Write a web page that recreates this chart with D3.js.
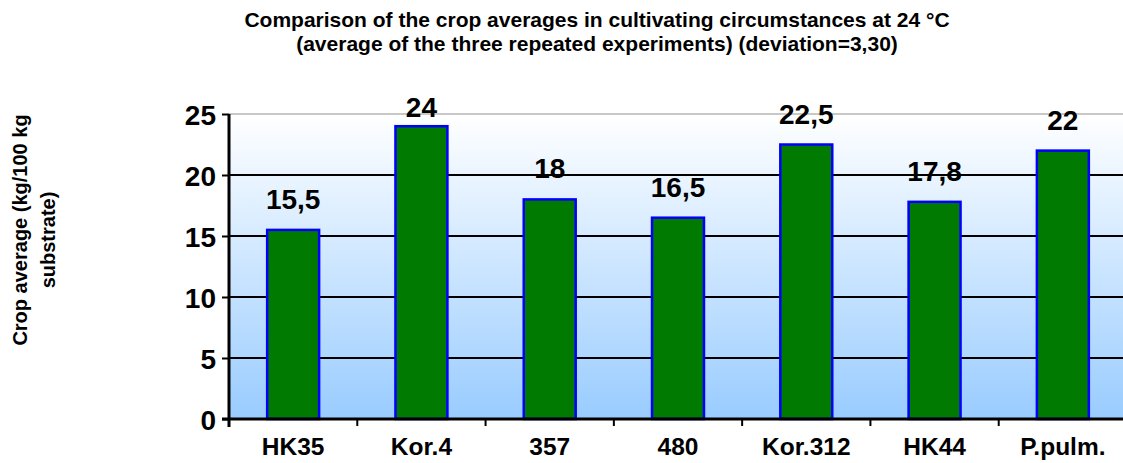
<!DOCTYPE html>
<html>
<head>
<meta charset="utf-8">
<script src="https://cdn.jsdelivr.net/npm/d3@7"></script>
<style>
  body { margin: 0; background: #fff; }
  text { font-family: Arial, "Liberation Sans", sans-serif; font-weight: bold; fill: #000; }
</style>
</head>
<body>
<svg id="chart" width="1123" height="463"></svg>
<script>
// chart data
const categories = ['HK35', 'Kor.4', '357', '480', 'Kor.312', 'HK44', 'P.pulm.'];
const values = [15.5, 24, 18, 16.5, 22.5, 17.8, 22];
const valueLabels = ['15,5', '24', '18', '16,5', '22,5', '17,8', '22'];
const yTicks = [0, 5, 10, 15, 20, 25];
const titleLines = [
    'Comparison of the crop averages in cultivating circumstances at 24 °C',
    '(average of the three repeated experiments) (deviation=3,30)'
];
const yLabelLines = ['Crop average (kg/100 kg', 'substrate)'];

const margin = { top: 114, left: 229 };
const plotW = 898, plotH = 305;

const svg = d3.select('#chart');

// background gradient for plot area
const grad = svg.append('defs').append('linearGradient')
    .attr('id', 'bg-grad')
    .attr('x1', 0).attr('y1', 0).attr('x2', 0).attr('y2', 1);
grad.append('stop').attr('offset', '0%').attr('stop-color', '#ffffff');
grad.append('stop').attr('offset', '100%').attr('stop-color', '#99ccff');

const chart = svg.append('g')
    .attr('transform', `translate(${margin.left},${margin.top})`);

const x = d3.scaleBand()
    .domain(categories)
    .range([0, plotW])
    .paddingInner(0.595)
    .paddingOuter(0.2975);

const y = d3.scaleLinear()
    .domain([0, 25])
    .range([plotH, 0]);

chart.append('rect')
    .attr('width', plotW)
    .attr('height', plotH)
    .attr('fill', 'url(#bg-grad)');

// gridlines
chart.selectAll('.grid')
    .data(yTicks.filter(d => d > 0))
    .join('line')
    .attr('class', 'grid')
    .attr('x1', 0).attr('x2', plotW)
    .attr('y1', d => y(d)).attr('y2', d => y(d))
    .attr('stroke', d => d === 25 ? '#c8c8c8' : '#000')
    .attr('stroke-width', 2);

// bars
chart.selectAll('.bar')
    .data(values)
    .join('rect')
    .attr('class', 'bar')
    .attr('x', (d, i) => x(categories[i]))
    .attr('y', d => y(d))
    .attr('width', x.bandwidth())
    .attr('height', d => plotH - y(d))
    .attr('fill', '#007a00')
    .attr('stroke', '#0000ff')
    .attr('stroke-width', 2.5);

// value labels (pushed down when they would leave the top)
chart.selectAll('.val')
    .data(values)
    .join('text')
    .attr('class', 'val')
    .attr('x', (d, i) => x(categories[i]) + x.bandwidth() / 2)
    .attr('y', d => Math.max(y(d) - 21, 3))
    .attr('text-anchor', 'middle')
    .attr('font-size', 28)
    .text((d, i) => valueLabels[i]);

// y axis
const yAxis = chart.append('g')
    .call(d3.axisLeft(y).tickValues(yTicks).tickSize(7).tickPadding(6));
yAxis.select('.domain').attr('stroke', '#000').attr('stroke-width', 3).attr('d', `M0,${plotH + 8}V0`);
yAxis.selectAll('.tick line').attr('stroke', '#000').attr('stroke-width', 2);
yAxis.selectAll('.tick text')
    .attr('font-size', 28)
    .attr('dy', '0.36em')
    .style('font-weight', 'bold')
    .style('font-family', 'Arial, "Liberation Sans", sans-serif');

// x axis
const xAxis = chart.append('g')
    .attr('transform', `translate(0,${plotH})`);
xAxis.append('line')
    .attr('x1', -7).attr('x2', plotW)
    .attr('stroke', '#000').attr('stroke-width', 3);
xAxis.selectAll('.xtick')
    .data(categories.slice(1))
    .join('line')
    .attr('class', 'xtick')
    .attr('x1', d => x(d) - x.step() * x.paddingInner() / 2)
    .attr('x2', d => x(d) - x.step() * x.paddingInner() / 2)
    .attr('y1', 0).attr('y2', 7)
    .attr('stroke', '#000').attr('stroke-width', 2);
xAxis.selectAll('.xlab')
    .data(categories)
    .join('text')
    .attr('class', 'xlab')
    .attr('x', d => x(d) + x.bandwidth() / 2)
    .attr('y', 36)
    .attr('text-anchor', 'middle')
    .attr('font-size', 24.5)
    .text(d => d);

// title
svg.selectAll('.title')
    .data(titleLines)
    .join('text')
    .attr('class', 'title')
    .attr('x', 597)
    .attr('y', (d, i) => 27 + i * 24)
    .attr('text-anchor', 'middle')
    .attr('font-size', 21)
    .text(d => d);

// y axis label
svg.append('text')
    .attr('transform', 'translate(0,234) rotate(-90)')
    .attr('text-anchor', 'middle')
    .attr('font-size', 20)
    .selectAll('tspan')
    .data(yLabelLines)
    .join('tspan')
    .attr('x', (d, i) => i === 0 ? 4 : -6)
    .attr('y', (d, i) => i === 0 ? 27 : 55)
    .text(d => d);
</script>
</body>
</html>
